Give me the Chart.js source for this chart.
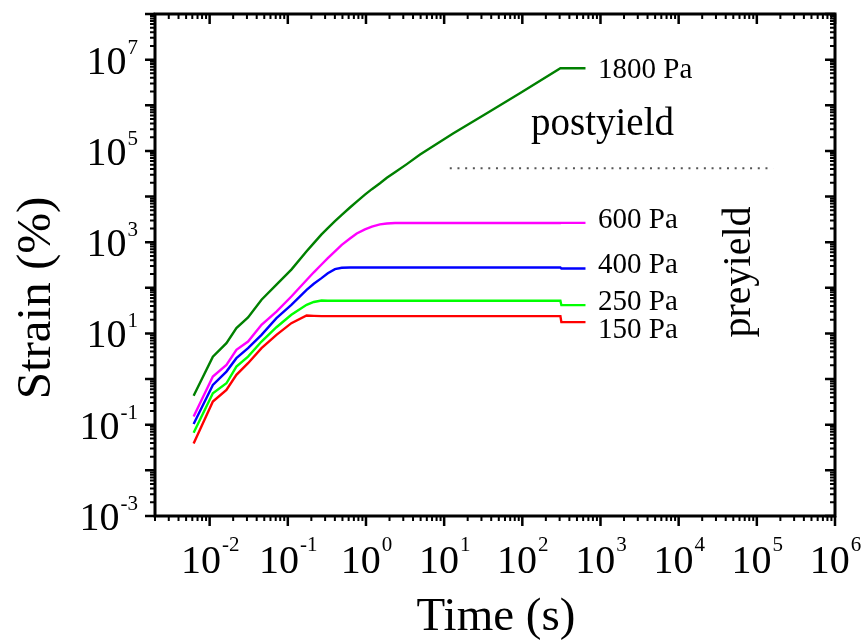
<!DOCTYPE html>
<html><head><meta charset="utf-8">
<script src="https://cdn.jsdelivr.net/npm/chart.js@4/dist/chart.umd.min.js"></script>
<style>html,body{margin:0;padding:0;background:#fff}canvas{display:block}</style>
</head><body>
<canvas id="c" width="865" height="640"></canvas>
<script>
// ---- data ----
const timeS = [0.00624, 0.0110, 0.0164, 0.0220, 0.0310, 0.0461, 0.0716, 0.111, 0.174, 0.215, 0.270, 0.325, 0.401, 0.490, 0.624, 0.762, 0.970, 1.19, 1.51, 1.85, 2.35, 3.33, 4.92, 13.0, 35.6, 94.2, 307, 316, 643];
const strain150 = [0.039, 0.321, 0.579, 1.24, 2.23, 4.76, 9.31, 16.8, 24.7, 24.3, 24.0, 24.0, 24.0, 24.0, 24.0, 24.0, 24.0, 24.0, 24.0, 24.0, 24.0, 24.0, 24.0, 24.0, 24.0, 24.0, 24.0, 17.7, 17.7];
const strain250 = [0.067, 0.49, 0.81, 1.88, 3.12, 6.64, 13.7, 25.6, 42.4, 49, 52.7, 52.2, 52.2, 52.2, 52.2, 52.2, 52.2, 52.2, 52.2, 52.2, 52.2, 52.2, 52.2, 52.2, 52.2, 52.2, 52.2, 41.7, 41.7];
const strain400 = [0.104, 0.746, 1.46, 2.87, 4.76, 9.31, 21.7, 42.4, 90.4, 123, 163, 209, 257, 275, 279, 279, 279, 279, 279, 279, 279, 279, 279, 279, 279, 279, 279, 265, 265];
const strain600 = [0.151, 1.14, 2.05, 4.37, 6.64, 15.5, 30.2, 64.4, 148, 219, 324, 447, 631, 871, 1200, 1550, 1910, 2190, 2450, 2570, 2630, 2630, 2630, 2630, 2630, 2630, 2630, 2650, 2650];
const strain1800 = [0.43, 3.11, 6.12, 13.1, 22.4, 55, 117, 251, 630, 955, 1480, 2040, 2880, 3980, 5750, 7760, 11000, 14500, 19500, 25700, 33900, 51300, 83000, 240000, 676000, 1860000, 6460000, 6460000, 6460000];
const seriesLabels = ['150 Pa', '250 Pa', '400 Pa', '600 Pa', '1800 Pa'];
const dividerTime = [11.8, 162000];
const dividerStrain = [41500, 41500];
const xTickExps = [-2, -1, 0, 1, 2, 3, 4, 5, 6];
const yTickExps = [-3, -1, 1, 3, 5, 7];
const regionLabels = ['postyield', 'preyield'];
const axisTitles = ['Time (s)', 'Strain (%)'];

const pts = (xs, ys) => xs.map((t, i) => ({x: t, y: ys[i]}));
const FONT = '"Liberation Serif","Times New Roman",serif';

function txt(ctx, s, x, y, size, align) {
  ctx.font = size + 'px ' + FONT;
  ctx.textAlign = align || 'left';
  ctx.textBaseline = 'alphabetic';
  ctx.fillText(s, x, y);
}

const axesPlugin = {
  id: 'axesDraw',
  afterDatasetsDraw(chart) {
    const ctx = chart.ctx, a = chart.chartArea;
    const xs = chart.scales.x, ys = chart.scales.y;
    ctx.save();
    ctx.strokeStyle = '#000'; ctx.fillStyle = '#000';
    ctx.lineWidth = 3;
    ctx.strokeRect(a.left, a.top, a.right - a.left, a.bottom - a.top);
    for (let e = -3; e <= 6; e++) {
      for (let m = 1; m <= 9; m++) {
        const v = m * Math.pow(10, e);
        if (v < xs.min * 0.999 || v > xs.max * 1.001) continue;
        const px = xs.getPixelForValue(v);
        const len = m === 1 ? 10 : 5;
        ctx.lineWidth = m === 1 ? 2.5 : 2;
        ctx.beginPath();
        ctx.moveTo(px, a.bottom); ctx.lineTo(px, a.bottom + len);
        ctx.moveTo(px, a.top); ctx.lineTo(px, a.top + len);
        ctx.stroke();
      }
    }
    for (let e = -3; e <= 8; e++) {
      for (let m = 1; m <= 9; m++) {
        const v = m * Math.pow(10, e);
        if (v < ys.min * 0.999 || v > ys.max * 1.001) continue;
        const py = ys.getPixelForValue(v);
        const len = m === 1 ? 10 : 5;
        ctx.lineWidth = m === 1 ? 2.5 : 2;
        ctx.beginPath();
        ctx.moveTo(a.left - len, py); ctx.lineTo(a.left, py);
        ctx.moveTo(a.right - len, py); ctx.lineTo(a.right, py);
        ctx.stroke();
      }
    }
    xTickExps.forEach(e => {
      const px = xs.getPixelForValue(Math.pow(10, e));
      ctx.font = '40px ' + FONT; const w10 = ctx.measureText('10').width;
      ctx.font = '21px ' + FONT; const ws = ctx.measureText(String(e)).width;
      const start = px - (w10 + ws) / 2;
      txt(ctx, '10', start, 573, 40, 'left');
      txt(ctx, String(e), start + w10 + 1, 551, 21, 'left');
    });
    yTickExps.forEach(e => {
      const py = ys.getPixelForValue(Math.pow(10, e));
      ctx.font = '21px ' + FONT; const ws = ctx.measureText(String(e)).width;
      txt(ctx, String(e), 138, py - 6, 21, 'right');
      txt(ctx, '10', 138 - ws - 1, py + 14, 40, 'right');
    });
    txt(ctx, axisTitles[0], 496, 630, 47, 'center');
    ctx.save();
    ctx.translate(50, 298); ctx.rotate(-Math.PI / 2);
    txt(ctx, axisTitles[1], 0, 0, 49, 'center');
    ctx.restore();
    const lblY = [338, 310, 273, 228, 78];
    seriesLabels.forEach((s, i) => txt(ctx, s, 598, lblY[i], 29, 'left'));
    txt(ctx, regionLabels[0], 531, 135, 39, 'left');
    ctx.save();
    ctx.translate(750, 272); ctx.rotate(-Math.PI / 2);
    txt(ctx, regionLabels[1], 0, 0, 40, 'center');
    ctx.restore();
    ctx.restore();
  }
};

const mk = (data, color) => ({data, borderColor: color, borderWidth: 2.4, pointRadius: 0, fill: false, tension: 0, showLine: true});

new Chart(document.getElementById('c'), {
  type: 'scatter',
  data: {
    datasets: [
      mk(pts(timeS, strain150), '#ff0000'),
      mk(pts(timeS, strain250), '#00ff00'),
      mk(pts(timeS, strain400), '#0000ff'),
      mk(pts(timeS, strain600), '#ff00ff'),
      mk(pts(timeS, strain1800), '#008000'),
      Object.assign(mk(pts(dividerTime, dividerStrain), '#555555'), {borderDash: [2, 5.7], borderWidth: 2})
    ]
  },
  options: {
    responsive: false,
    animation: false,
    layout: {padding: {left: 155, right: 30, top: 14, bottom: 124}},
    plugins: {legend: {display: false}, tooltip: {enabled: false}},
    scales: {
      x: {type: 'logarithmic', min: 0.002, max: 1e6, display: false},
      y: {type: 'logarithmic', min: 1e-3, max: 1e8, display: false}
    }
  },
  plugins: [axesPlugin]
});
</script>
</body></html>
